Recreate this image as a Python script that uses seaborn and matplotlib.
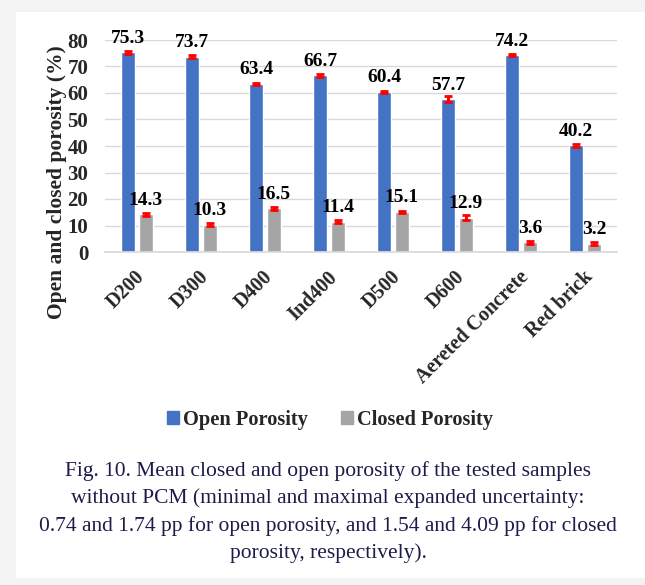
import pandas as pd
import numpy as np
import matplotlib.pyplot as plt
import matplotlib.patches as mpatches
import matplotlib.transforms as mtransforms
import seaborn as sns

sns.set_theme(style="white")
plt.rcParams['font.family'] = ['Liberation Serif', 'DejaVu Serif']

# data
samples = ['D200', 'D300', 'D400', 'Ind400', 'D500', 'D600', 'Aereted Concrete', 'Red brick']
open_porosity = [75.3, 73.7, 63.4, 66.7, 60.4, 57.7, 74.2, 40.2]
closed_porosity = [14.3, 10.3, 16.5, 11.4, 15.1, 12.9, 3.6, 3.2]
open_err = [0.6, 0.5, 0.5, 0.5, 0.4, 1.0, 0.4, 0.4]
closed_err = [0.6, 0.6, 0.6, 0.6, 0.5, 1.0, 0.6, 0.5]
series = ['Open Porosity', 'Closed Porosity']
colors = ['#4472C4', '#A5A5A5']

caption = [
    "Fig. 10. Mean closed and open porosity of the tested samples",
    "without PCM (minimal and maximal expanded uncertainty:",
    "0.74 and 1.74 pp for open porosity, and 1.54 and 4.09 pp for closed",
    "porosity, respectively).",
]

df = pd.DataFrame({
    'Sample': samples * 2,
    'Series': [series[0]] * len(samples) + [series[1]] * len(samples),
    'Value': open_porosity + closed_porosity,
})

fig = plt.figure(figsize=(6.45, 5.85), dpi=100)
fig.patch.set_facecolor('#f3f3f3')
# white card like the screenshot
card = mpatches.Rectangle((16 / 645, 1 - 578 / 585), 1 - 16 / 645, (578 - 12) / 585,
                          transform=fig.transFigure, facecolor='white',
                          edgecolor='none', zorder=-5)
fig.add_artist(card)

ax = fig.add_axes([105 / 645, 1 - 252 / 585, 512 / 645, 212 / 585])
ax.set_facecolor('none')

sns.barplot(data=df, x='Sample', y='Value', hue='Series', palette=colors,
            saturation=1, width=0.56, gap=0.2, errorbar=None, ax=ax,
            legend=False, zorder=2)

# error bars and value labels on each series container
errs = [open_err, closed_err]
for cont, err in zip(ax.containers, errs):
    xs = [p.get_x() + p.get_width() / 2 for p in cont]
    ys = [p.get_height() for p in cont]
    ax.errorbar(xs, ys, yerr=err, fmt='none', ecolor='red', elinewidth=2.2,
                capsize=3, capthick=2, zorder=3)
    ax.bar_label(cont, labels=[f'{v:.1f}' for v in ys], padding=4,
                 fontsize=14, fontweight='bold', color='black')

ax.set_ylim(0, 80)
ax.set_xlim(-0.5, 7.5)
ax.set_yticks(range(0, 81, 10))
ax.yaxis.grid(True, color='#d9d9d9', linewidth=1)
ax.set_axisbelow(True)
for s in ['top', 'right', 'left']:
    ax.spines[s].set_visible(False)
ax.spines['bottom'].set_color('#d9d9d9')
ax.tick_params(axis='y', length=0, pad=12, labelsize=15)
ax.tick_params(axis='x', length=0, pad=11, labelsize=14.5)
for lab in ax.get_yticklabels():
    lab.set_fontweight('bold')
shift = mtransforms.ScaledTranslation(-2 / 100, 0, fig.dpi_scale_trans)
for lab in ax.get_xticklabels():
    lab.set_rotation(45)
    lab.set_ha('right')
    lab.set_va('top')
    lab.set_rotation_mode('anchor')
    lab.set_fontweight('bold')
    lab.set_transform(lab.get_transform() + shift)
ax.set_xlabel('')
ax.set_ylabel('Open and closed porosity (%)', fontsize=15.5, fontweight='bold')
ax.yaxis.set_label_coords(-0.074, 0.33)

handles = [mpatches.Patch(color=c, label=l) for c, l in zip(colors, series)]
fig.legend(handles=handles, loc='center', bbox_to_anchor=(330 / 645, 1 - 420 / 585),
           ncol=2, frameon=False, handlelength=0.6, handleheight=0.6,
           handletextpad=0.2, columnspacing=1.6,
           prop={'family': 'Liberation Serif', 'weight': 'bold', 'size': 14.7})

for i, line in enumerate(caption):
    fig.text(328 / 645, 1 - (471 + i * 27.5) / 585, line, ha='center', va='center',
             fontsize=15.5, color='#1c1c4a')

fig.savefig('out.png', dpi=100, facecolor=fig.get_facecolor())
